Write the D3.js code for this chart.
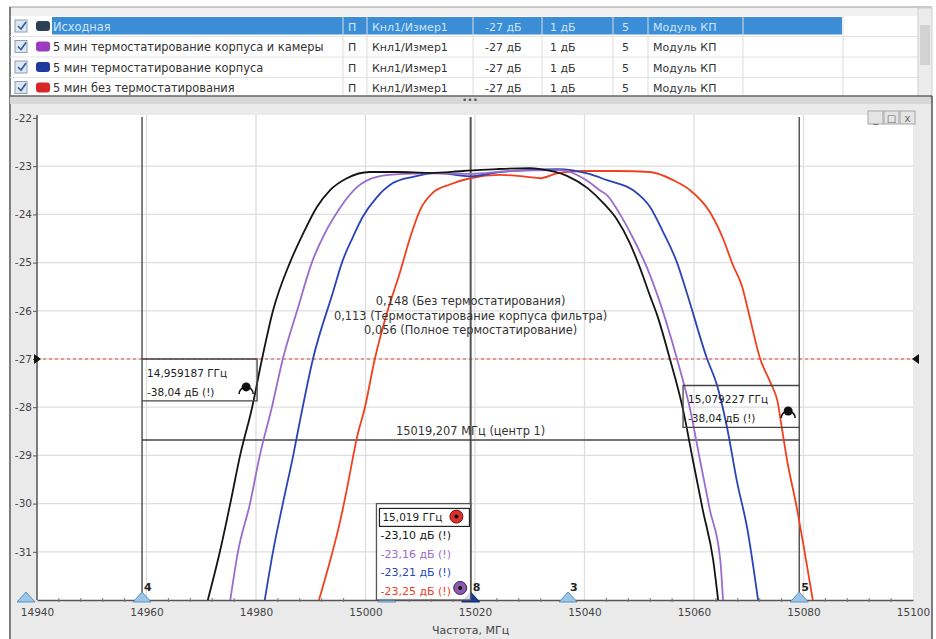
<!DOCTYPE html>
<html>
<head>
<meta charset="utf-8">
<script src="https://cdn.jsdelivr.net/npm/d3@7"></script>
<style>
  body { margin: 0; background: #fff; }
  svg { display: block; font-family: "DejaVu Sans", Verdana, sans-serif; }
</style>
</head>
<body>
<svg id="chart" width="936" height="639"></svg>
<script>
// ---- table / legend ----
const traceNames = ["Исходная", "5 мин термостатирование корпуса и камеры", "5 мин термостатирование корпуса", "5 мин без термостатирования"];
const swatchColors = ["#2d3f52", "#9b3cc0", "#1f3a9e", "#d8262a"];
const traceColors = ["#141414", "#9a6ccb", "#2a44b8", "#f2401c"];
const tableCells = ["П", "Кнл1/Измер1", "-27 дБ", "1 дБ", "5", "Модуль КП"];

// ---- axes ----
const xTicks = [14940, 14960, 14980, 15000, 15020, 15040, 15060, 15080, 15100];
const yTicks = [-22, -23, -24, -25, -26, -27, -28, -29, -30, -31];

// ---- traces (freq MHz, level dB) ----
const freqSrc = [14971.2, 14973.4, 14975.3, 14977.1, 14979.3, 14981.1, 14983.1, 14986.2, 14988.6, 14991.1, 14993.5, 14996.6, 15000.8, 15005.8, 15011.8, 15017.8, 15024.0, 15030.0, 15031.9, 15036.8, 15040.5, 15043.4, 15045.9, 15048.3, 15050.1, 15052.0, 15053.3, 15055.6, 15058.0, 15059.8, 15061.6, 15063.5, 15064.4];
const dbSrc   = [-32, -31, -30, -29, -28, -27, -26, -25, -24.4, -23.85, -23.5, -23.25, -23.12, -23.12, -23.14, -23.1, -23.06, -23.04, -23.06, -23.2, -23.45, -23.76, -24.1, -24.6, -25.1, -25.7, -26.1, -27, -28.05, -29.1, -30.13, -31.17, -32];

const freqCam = [14975.3, 14976.7, 14978.9, 14980.7, 14982.9, 14984.9, 14987.5, 14990.2, 14993.0, 14995.3, 14998.5, 15002.1, 15006.9, 15011.8, 15019.1, 15026.4, 15035.5, 15040.5, 15042.8, 15044.1, 15046.5, 15048.9, 15051.4, 15053.4, 15056.9, 15059.3, 15061.1, 15062.9, 15064.8, 15065.3];
const dbCam   = [-32, -31, -30, -29, -28, -27, -26, -25, -24.3, -23.87, -23.43, -23.22, -23.16, -23.15, -23.16, -23.1, -23.08, -23.3, -23.5, -23.6, -24.0, -24.5, -25.1, -25.7, -27, -28.05, -29.1, -30.13, -31.17, -32];

const freqBody = [14981.6, 14983.1, 14984.9, 14986.8, 14988.0, 14990.4, 14994.1, 14995.7, 14997.7, 14999.5, 15002.1, 15005.0, 15008.7, 15013.1, 15019.1, 15024.6, 15035.0, 15040.5, 15044.1, 15048.9, 15052.0, 15054.3, 15056.9, 15058.7, 15062.4, 15064.2, 15066.0, 15067.9, 15069.7, 15071.7];
const dbBody   = [-32, -31, -30, -29, -28.3, -27, -25.6, -25, -24.47, -24.05, -23.64, -23.35, -23.22, -23.14, -23.21, -23.12, -23.06, -23.15, -23.29, -23.5, -23.85, -24.35, -25, -25.63, -27, -27.54, -28.4, -29.57, -30.5, -32];

const freqNone = [14991.5, 14993.5, 14995.3, 14996.6, 14998.5, 14999.9, 15001.7, 15003.9, 15006.3, 15008.1, 15010.0, 15012.3, 15015.4, 15019.1, 15024.6, 15029.5, 15031.9, 15035.0, 15039.7, 15045.9, 15052.0, 15056.2, 15059.3, 15062.9, 15065.3, 15067.1, 15068.8, 15069.9, 15072.1, 15074.0, 15075.3, 15076.0, 15077.0, 15078.8, 15079.9, 15081.7];
const dbNone   = [-32, -31.2, -30.4, -29.7, -28.6, -28, -27, -26.05, -25.2, -24.5, -23.9, -23.55, -23.38, -23.25, -23.18, -23.22, -23.25, -23.15, -23.1, -23.1, -23.12, -23.29, -23.5, -23.95, -24.5, -25.05, -25.5, -26, -27, -27.5, -27.9, -28.4, -29.1, -30.1, -30.8, -32];

// ---- markers ----
const markerFreqs = [14938, 14959.187, 15003.9, 15019.207, 15037.0, 15079.227];
const markerLabels = ["", "4", "", "8", "3", "5"];
const refLevel = -27;
const centerLevel = -28.68;
const filterNotes = ["0,148 (Без термостатирования)", "0,113 (Термостатирование корпуса фильтра)", "0,056 (Полное термостатирование)"];
const centerNote = "15019,207 МГц (центр 1)";
const readoutFreq = "15,019 ГГц";
const readoutVals = ["-23,10 дБ (!)", "-23,16 дБ (!)", "-23,21 дБ (!)", "-23,25 дБ (!)"];
const leftReadout = ["14,959187 ГГц", "-38,04 дБ (!)"];
const rightReadout = ["15,079227 ГГц", "-38,04 дБ (!)"];

const svg = d3.select("#chart");
const W = 936, H = 639;

// ===== top table =====
svg.append("rect").attr("x", 0).attr("y", 0).attr("width", W).attr("height", 97).attr("fill", "#fff");
svg.append("rect").attr("x", 10).attr("y", 7).attr("width", 922).attr("height", 9).attr("fill", "#f1f1f1");
svg.append("line").attr("x1", 10).attr("x2", 932).attr("y1", 7).attr("y2", 7).attr("stroke", "#9a9a9a");
svg.append("line").attr("x1", 10).attr("x2", 10).attr("y1", 7).attr("y2", 639).attr("stroke", "#555").attr("stroke-width", 1.5);

const rowTop = [16, 36.5, 57, 77.5];
const rowH = 20.5;
const colSeps = [343, 367, 473, 542, 613, 648, 743, 843];
const cellX = [348, 372, 485, 550, 622, 653];

// highlighted first row
svg.append("rect").attr("x", 52).attr("y", rowTop[0] + 1).attr("width", 790).attr("height", rowH - 3).attr("fill", "#3b8ed6");

rowTop.forEach((t, i) => {
    svg.append("line").attr("x1", 10).attr("x2", 918).attr("y1", t + rowH).attr("y2", t + rowH).attr("stroke", "#e2e2e2");
    // checkbox
    svg.append("rect").attr("x", 15).attr("y", t + 4).attr("width", 12).attr("height", 12)
        .attr("fill", "#dfe6ee").attr("stroke", "#8ea0b4");
    svg.append("path").attr("d", `M18,${t + 10} l3,3 l5,-7`).attr("fill", "none").attr("stroke", "#2a5da8").attr("stroke-width", 1.6);
    // swatch
    svg.append("rect").attr("x", 36).attr("y", t + 5).attr("width", 14).attr("height", 10).attr("rx", 3)
        .attr("fill", swatchColors[i]);
    const fg = i === 0 ? "#cfe4fb" : "#333";
    svg.append("text").attr("x", 53).attr("y", t + 14.5).attr("font-size", 11.4).attr("fill", fg).text(traceNames[i]);
    tableCells.forEach((c, j) => {
        svg.append("text").attr("x", cellX[j]).attr("y", t + 14.5).attr("font-size", 11).attr("fill", fg).text(c);
    });
});
colSeps.forEach(x => {
    svg.append("line").attr("x1", x).attr("x2", x).attr("y1", 16).attr("y2", 97).attr("stroke", "#dcdcdc");
});
// scrollbar
svg.append("rect").attr("x", 918).attr("y", 8).attr("width", 14).attr("height", 89).attr("fill", "#ececec").attr("stroke", "#cfcfcf");
svg.append("rect").attr("x", 920).attr("y", 25).attr("width", 10).attr("height", 40).attr("fill", "#d2d2d2");

// splitter
svg.append("rect").attr("x", 10).attr("y", 96).attr("width", 922).attr("height", 8).attr("fill", "#d8d8d8");
svg.append("line").attr("x1", 10).attr("x2", 932).attr("y1", 96).attr("y2", 96).attr("stroke", "#666").attr("stroke-width", 1.5);
svg.append("text").attr("x", 470).attr("y", 103).attr("text-anchor", "middle").attr("font-size", 9).attr("fill", "#555").text("•••");

// ===== chart panel =====
svg.append("rect").attr("x", 11).attr("y", 104).attr("width", 921).attr("height", 535).attr("fill", "#eaeaea");
svg.append("line").attr("x1", 932).attr("x2", 932).attr("y1", 96).attr("y2", 639).attr("stroke", "#555").attr("stroke-width", 1.5);

const x = d3.scaleLinear().domain([14940, 15100]).range([37, 913]);
const y = d3.scaleLinear().domain([-22, -32]).range([118, 600]);

svg.append("rect").attr("x", x(14940)).attr("y", 115).attr("width", x(15100) - x(14940)).attr("height", y(-32) - 115).attr("fill", "#fff");

// window buttons
["_", "□", "x"].forEach((s, i) => {
    const bx = 868 + i * 16;
    svg.append("rect").attr("x", bx).attr("y", 111).attr("width", 15).attr("height", 13).attr("fill", "#e4e4e4").attr("stroke", "#a5a5a5");
    svg.append("text").attr("x", bx + 7.5).attr("y", 122).attr("text-anchor", "middle").attr("font-size", 10).attr("fill", "#666").text(s);
});

// grid
const grid = svg.append("g").attr("stroke", "#dedede").attr("stroke-width", 1.3);
xTicks.slice(1, -1).forEach(v => grid.append("line").attr("x1", x(v)).attr("x2", x(v)).attr("y1", 115).attr("y2", y(-32)));
yTicks.slice(1).forEach(v => grid.append("line").attr("x1", x(14940)).attr("x2", x(15100)).attr("y1", y(v)).attr("y2", y(v)));

// axes
const xAxis = d3.axisBottom(x).tickValues(xTicks).tickSize(0).tickPadding(9).tickFormat(d3.format("d"));
const gx = svg.append("g").attr("transform", `translate(0,${y(-32)})`).call(xAxis);
gx.select(".domain").attr("stroke", "#555").attr("stroke-width", 1.5);
gx.selectAll("text").attr("font-size", 10.5).attr("fill", "#444").attr("font-family", "DejaVu Sans, sans-serif");
const minorX = d3.range(14940, 15100, 4).filter(v => (v - 14940) % 20 !== 0);
svg.append("g").selectAll("line").data(minorX).join("line")
    .attr("x1", d => x(d)).attr("x2", d => x(d)).attr("y1", y(-32) - 2).attr("y2", y(-32) + 2)
    .attr("stroke", "#777");

const yAxis = d3.axisLeft(y).tickValues(yTicks).tickSize(4).tickPadding(1).tickFormat(d => d);
const gy = svg.append("g").attr("transform", `translate(${x(14940)},0)`).call(yAxis);
gy.select(".domain").attr("d", `M0,115V${y(-32)}`).attr("stroke", "#555").attr("stroke-width", 1.5);
gy.selectAll(".tick line").attr("stroke", "#555");
gy.selectAll("text").attr("font-size", 10.5).attr("fill", "#444").attr("font-family", "DejaVu Sans, sans-serif");

svg.append("text").attr("x", x(15019.2)).attr("y", 634).attr("text-anchor", "middle").attr("font-size", 11).attr("fill", "#444").text("Частота, МГц");

// clip
svg.append("clipPath").attr("id", "plotClip").append("rect")
    .attr("x", x(14940)).attr("y", 115).attr("width", x(15100) - x(14940)).attr("height", y(-32) - 115);

// reference level (dashed red)
svg.append("line").attr("x1", x(14940)).attr("x2", x(15100)).attr("y1", y(refLevel)).attr("y2", y(refLevel))
    .attr("stroke", "#e2502c").attr("stroke-dasharray", "3,3").attr("stroke-width", 1);
svg.append("path").attr("d", `M${x(14940) - 3},${y(refLevel) - 5}l7,5l-7,5z`).attr("fill", "#111");
svg.append("path").attr("d", `M${x(15100) + 6},${y(refLevel) - 5}l-7,5l7,5z`).attr("fill", "#111");

// marker vertical lines
[markerFreqs[1], markerFreqs[5]].forEach(f => {
    svg.append("line").attr("x1", x(f)).attr("x2", x(f)).attr("y1", 117).attr("y2", y(-32))
        .attr("stroke", "#555").attr("stroke-width", 1.5);
});
svg.append("line").attr("x1", x(markerFreqs[3])).attr("x2", x(markerFreqs[3])).attr("y1", 117).attr("y2", y(-32))
    .attr("stroke", "#555").attr("stroke-width", 2);

// center bandwidth line
svg.append("line").attr("x1", x(markerFreqs[1])).attr("x2", x(markerFreqs[5])).attr("y1", y(centerLevel)).attr("y2", y(centerLevel))
    .attr("stroke", "#444").attr("stroke-width", 1.3);

// traces
const series = [
    { f: freqSrc, v: dbSrc, c: traceColors[0] },
    { f: freqCam, v: dbCam, c: traceColors[1] },
    { f: freqBody, v: dbBody, c: traceColors[2] },
    { f: freqNone, v: dbNone, c: traceColors[3] }
];
const line = d3.line().x(d => x(d[0])).y(d => y(d[1])).curve(d3.curveMonotoneX);
const traces = svg.append("g").attr("clip-path", "url(#plotClip)");
series.slice().reverse().forEach(s => {
    traces.append("path").datum(d3.zip(s.f, s.v)).attr("d", line)
        .attr("fill", "none").attr("stroke", s.c).attr("stroke-width", 1.8);
});

// notes
filterNotes.forEach((t, i) => {
    svg.append("text").attr("x", x(15019.2)).attr("y", y(-25.8 - i * 0.3) + 4).attr("text-anchor", "middle")
        .attr("font-size", 11.4).attr("fill", "#333").text(t);
});
svg.append("text").attr("x", x(15019.2)).attr("y", y(centerLevel) - 5).attr("text-anchor", "middle")
    .attr("font-size", 11.4).attr("fill", "#333").text(centerNote);

// marker symbol
function markerIcon(cx, cy) {
    svg.append("path").attr("d", `M${cx - 7},${cy + 6}A7,7 0 0 1 ${cx + 7},${cy + 6}`).attr("fill", "none").attr("stroke", "#111").attr("stroke-width", 1.6);
    svg.append("circle").attr("cx", cx).attr("cy", cy - 1).attr("r", 4.5).attr("fill", "#111");
}

// left readout box (marker 4)
const lx0 = x(markerFreqs[1]), lx1 = x(14980.2);
svg.append("path").attr("d", `M${lx0},${y(-27)}H${lx1}V${y(-27.87)}H${lx0}`).attr("fill", "none").attr("stroke", "#444").attr("stroke-width", 1.3);
leftReadout.forEach((t, i) => svg.append("text").attr("x", lx0 + 5).attr("y", y(-27) + 18 + i * 19).attr("font-size", 10.5).attr("fill", "#222").text(t));
markerIcon(x(14978.2), y(-27.6));

// right readout box (marker 5)
const rx0 = x(15058.0), rx1 = x(markerFreqs[5]);
svg.append("path").attr("d", `M${rx1},${y(-27.55)}H${rx0}V${y(-28.42)}H${rx1}`).attr("fill", "none").attr("stroke", "#444").attr("stroke-width", 1.3);
rightReadout.forEach((t, i) => svg.append("text").attr("x", rx0 + 5).attr("y", y(-27.55) + 17 + i * 19).attr("font-size", 10.5).attr("fill", "#222").text(t));
markerIcon(x(15077.2), y(-28.1));

// marker triangles on x axis
svg.append("g").selectAll("path").data(markerFreqs).join("path")
    .attr("d", d => `M${x(d) - 9},${y(-32) + 2}L${x(d)},${y(-32) - 8}L${x(d) + 9},${y(-32) + 2}Z`)
    .attr("fill", (d, i) => i === 3 ? "#1d3c8f" : "#9cc6e8")
    .attr("stroke", (d, i) => i === 3 ? "#102a6a" : "#5b8fbf");
svg.append("g").selectAll("text").data(markerFreqs).join("text")
    .attr("x", d => x(d) + 2).attr("y", y(-32) - 9).attr("font-size", 11).attr("font-weight", "bold").attr("fill", "#222")
    .text((d, i) => markerLabels[i]);

// center readout box
const cx0 = x(15002.0), cx1 = x(markerFreqs[3]);
svg.append("rect").attr("x", cx0).attr("y", y(-30.0)).attr("width", cx1 - cx0).attr("height", y(-32) - y(-30.0))
    .attr("fill", "#fff").attr("fill-opacity", 0.8).attr("stroke", "#555").attr("stroke-width", 1.3);
svg.append("rect").attr("x", cx0 + 3).attr("y", y(-30.1)).attr("width", 90).attr("height", 18)
    .attr("fill", "#fff").attr("stroke", "#222").attr("stroke-width", 1.2);
svg.append("text").attr("x", cx0 + 6).attr("y", y(-30.1) + 13).attr("font-size", 10.5).attr("fill", "#222").text(readoutFreq);
readoutVals.forEach((t, i) => {
    svg.append("text").attr("x", cx0 + 4).attr("y", y(-30.1) + 31 + i * 18.5).attr("font-size", 11)
        .attr("fill", traceColors[i]).text(t);
});
svg.append("circle").attr("cx", x(15016.6)).attr("cy", y(-30.27)).attr("r", 6.5).attr("fill", "#d93030").attr("stroke", "#7a1010");
svg.append("circle").attr("cx", x(15016.6)).attr("cy", y(-30.27)).attr("r", 2).attr("fill", "#111");
svg.append("circle").attr("cx", x(15017.3)).attr("cy", y(-31.75)).attr("r", 6.5).attr("fill", "#8a5cab").attr("stroke", "#3a2050");
svg.append("circle").attr("cx", x(15017.3)).attr("cy", y(-31.75)).attr("r", 2).attr("fill", "#111");
</script>
</body>
</html>
